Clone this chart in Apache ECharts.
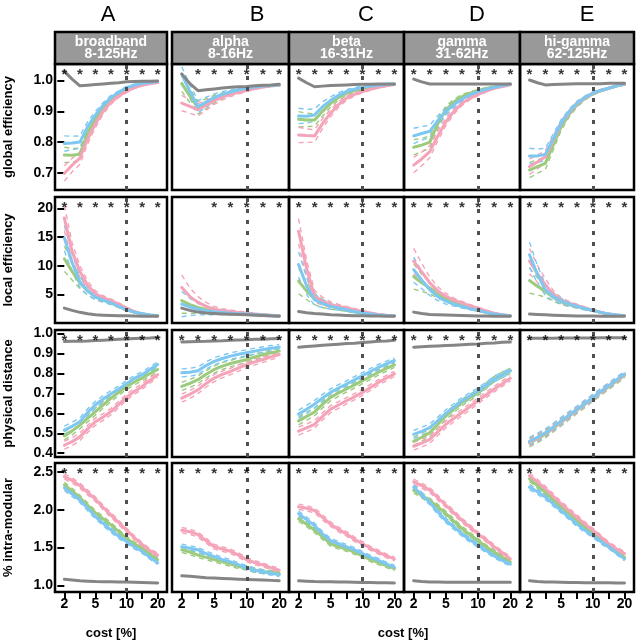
<!DOCTYPE html>
<html><head><meta charset="utf-8">
<script src="https://cdn.jsdelivr.net/npm/echarts@6/dist/echarts.min.js"></script>
<style>html,body{margin:0;padding:0;background:#fff}#c{width:637px;height:640px}</style>
</head><body><div id="c"></div>
<script>
// ---------- DATA ----------
const costs = [2, 2.5, 3, 4, 5, 6, 7, 8.5, 10, 12, 14, 17, 20];
const tickIdx = [0, 2, 4, 6, 8, 10, 12];
const labelIdx = [0, 4, 8, 12];
const bands = ['broadband\n8-125Hz', 'alpha\n8-16Hz', 'beta\n16-31Hz', 'gamma\n31-62Hz', 'hi-gamma\n62-125Hz'];
const colLetters = ['A', 'B', 'C', 'D', 'E'];
const metricNames = ['global efficiency', 'local efficiency', 'physical distance', '% intra-modular'];
const yTickValues = [[0.7, 0.8, 0.9, 1.0], [5, 10, 15, 20], [0.4, 0.5, 0.6, 0.7, 0.8, 0.9, 1.0], [1.0, 1.5, 2.0, 2.5]];
const refCostIdx = 8; // 10 %

// global efficiency
const GE_grey = [
 [1.03,1.005,0.983,0.985,0.987,0.989,0.991,0.993,0.996,0.997,0.998,0.998,0.999],
 [1.022,0.99,0.967,0.97,0.973,0.976,0.978,0.98,0.981,0.983,0.985,0.986,0.988],
 [1.008,0.993,0.98,0.982,0.984,0.985,0.986,0.987,0.988,0.988,0.989,0.989,0.989],
 [1.005,0.996,0.989,0.989,0.989,0.989,0.989,0.989,0.989,0.989,0.989,0.989,0.989],
 [1.002,0.993,0.986,0.987,0.988,0.989,0.99,0.99,0.99,0.99,0.991,0.991,0.991]];
const GE_pink = [
 [0.698,0.725,0.748,0.81,0.86,0.90,0.93,0.95,0.965,0.977,0.985,0.99,0.994],
 [0.927,0.916,0.905,0.92,0.935,0.946,0.955,0.962,0.968,0.974,0.979,0.983,0.985],
 [0.823,0.821,0.82,0.86,0.894,0.922,0.943,0.955,0.964,0.972,0.978,0.983,0.987],
 [0.725,0.745,0.769,0.82,0.866,0.9,0.926,0.943,0.955,0.966,0.975,0.981,0.986],
 [0.72,0.735,0.752,0.805,0.858,0.895,0.924,0.944,0.958,0.968,0.975,0.983,0.988]];
const GE_green = [
 [0.758,0.757,0.76,0.83,0.875,0.91,0.94,0.958,0.972,0.982,0.989,0.993,0.996],
 [0.99,0.95,0.911,0.925,0.94,0.951,0.96,0.967,0.972,0.977,0.98,0.983,0.985],
 [0.874,0.872,0.872,0.9,0.926,0.945,0.959,0.968,0.975,0.98,0.984,0.986,0.988],
 [0.783,0.79,0.80,0.86,0.905,0.93,0.948,0.959,0.967,0.974,0.979,0.984,0.988],
 [0.709,0.72,0.731,0.79,0.85,0.89,0.921,0.942,0.957,0.967,0.975,0.982,0.988]];
const GE_blue = [
 [0.795,0.797,0.80,0.85,0.888,0.92,0.945,0.962,0.977,0.985,0.991,0.994,0.997],
 [1.02,0.965,0.915,0.93,0.945,0.955,0.963,0.97,0.975,0.979,0.982,0.984,0.986],
 [0.885,0.884,0.888,0.915,0.935,0.952,0.964,0.972,0.978,0.982,0.985,0.987,0.989],
 [0.82,0.828,0.835,0.87,0.9,0.922,0.94,0.954,0.964,0.972,0.978,0.984,0.989],
 [0.755,0.755,0.76,0.81,0.861,0.898,0.926,0.945,0.959,0.968,0.975,0.983,0.989]];
const GE_ci = [0.025,0.022,0.02,0.016,0.012,0.009,0.007,0.005,0.004,0.003,0.002,0.002,0.001];

// local efficiency
const LE_grey = [
 [2.6,2.2,1.86,1.62,1.44,1.36,1.3,1.27,1.25,1.22,1.19,1.17,1.16],
 [2.6,2.2,1.9,1.75,1.65,1.58,1.52,1.47,1.42,1.36,1.3,1.24,1.18],
 [2.0,1.8,1.65,1.55,1.44,1.38,1.32,1.28,1.25,1.22,1.2,1.18,1.16],
 [1.9,1.65,1.5,1.45,1.4,1.35,1.3,1.26,1.23,1.2,1.18,1.17,1.16],
 [1.56,1.48,1.42,1.36,1.3,1.26,1.24,1.22,1.2,1.19,1.18,1.17,1.16]];
const LE_pink = [
 [18.3,12.5,9.0,6.6,5.1,4.4,3.9,3.3,2.6,2.0,1.5,1.35,1.25],
 [6.2,4.6,3.6,2.9,2.4,2.15,2.0,1.85,1.72,1.58,1.45,1.35,1.27],
 [16.0,9.5,4.65,3.8,3.2,2.9,2.6,2.3,2.0,1.75,1.5,1.35,1.27],
 [10.8,8.9,7.0,5.6,4.65,4.0,3.5,3.0,2.6,2.1,1.7,1.45,1.27],
 [10.8,8.6,6.7,5.0,3.9,3.4,3.0,2.6,2.2,1.85,1.55,1.38,1.25]];
const LE_green = [
 [11.2,9.0,7.0,5.6,4.6,4.0,3.5,2.9,2.3,1.9,1.6,1.4,1.25],
 [3.9,3.2,2.7,2.35,2.1,1.95,1.82,1.7,1.6,1.5,1.4,1.32,1.25],
 [7.3,5.6,4.2,3.4,2.9,2.6,2.3,2.0,1.73,1.55,1.4,1.3,1.25],
 [8.1,7.0,6.1,5.0,4.2,3.5,3.0,2.6,2.2,1.85,1.55,1.38,1.25],
 [7.4,6.4,5.5,4.5,3.7,3.2,2.9,2.5,2.2,1.85,1.55,1.38,1.25]];
const LE_blue = [
 [14.8,10.5,7.2,5.6,4.5,4.0,3.5,2.9,2.3,1.9,1.6,1.4,1.25],
 [3.3,2.8,2.4,2.15,1.95,1.82,1.72,1.63,1.55,1.47,1.38,1.3,1.24],
 [10.2,6.5,4.06,3.4,2.9,2.6,2.3,2.0,1.73,1.55,1.4,1.3,1.25],
 [9.3,7.5,5.8,4.6,3.8,3.3,2.9,2.5,2.2,1.85,1.55,1.38,1.25],
 [11.9,8.5,5.8,4.6,3.8,3.3,2.9,2.5,2.2,1.85,1.55,1.38,1.25]];
const LE_ci = [2.2,1.5,1.0,0.7,0.5,0.35,0.28,0.22,0.16,0.12,0.09,0.06,0.04];

// physical distance
const PD_grey = [
 [0.96,0.961,0.962,0.963,0.965,0.967,0.969,0.971,0.973,0.975,0.977,0.978,0.98],
 [0.958,0.959,0.96,0.961,0.963,0.964,0.966,0.968,0.969,0.971,0.972,0.974,0.975],
 [0.932,0.935,0.938,0.941,0.944,0.947,0.95,0.952,0.955,0.958,0.961,0.963,0.966],
 [0.932,0.934,0.936,0.938,0.94,0.942,0.944,0.946,0.948,0.951,0.953,0.956,0.958],
 [0.977,0.977,0.977,0.977,0.978,0.978,0.978,0.978,0.978,0.979,0.979,0.979,0.979]];
const PD_pink = [
 [0.44,0.458,0.482,0.522,0.558,0.582,0.609,0.645,0.681,0.71,0.735,0.765,0.794],
 [0.676,0.695,0.718,0.75,0.777,0.795,0.81,0.828,0.845,0.858,0.87,0.883,0.895],
 [0.511,0.527,0.545,0.585,0.621,0.642,0.663,0.683,0.705,0.73,0.755,0.777,0.798],
 [0.435,0.451,0.469,0.507,0.545,0.575,0.604,0.634,0.663,0.693,0.722,0.749,0.776],
 [0.455,0.476,0.5,0.529,0.559,0.589,0.618,0.648,0.678,0.708,0.737,0.765,0.795]];
const PD_green = [
 [0.487,0.512,0.541,0.575,0.609,0.643,0.676,0.706,0.735,0.757,0.777,0.8,0.82],
 [0.735,0.75,0.769,0.796,0.82,0.837,0.85,0.86,0.87,0.883,0.895,0.904,0.912],
 [0.562,0.585,0.607,0.645,0.68,0.702,0.722,0.743,0.764,0.785,0.806,0.825,0.843],
 [0.46,0.48,0.503,0.545,0.587,0.621,0.655,0.68,0.705,0.738,0.772,0.793,0.814],
 [0.452,0.472,0.495,0.525,0.555,0.585,0.615,0.645,0.675,0.705,0.733,0.762,0.79]];
const PD_blue = [
 [0.516,0.535,0.558,0.605,0.643,0.672,0.698,0.722,0.749,0.775,0.794,0.82,0.845],
 [0.803,0.806,0.814,0.84,0.861,0.875,0.887,0.896,0.904,0.912,0.92,0.926,0.932],
 [0.596,0.62,0.646,0.677,0.705,0.727,0.747,0.768,0.789,0.81,0.831,0.848,0.865],
 [0.494,0.51,0.528,0.563,0.6,0.632,0.663,0.688,0.713,0.742,0.772,0.793,0.814],
 [0.46,0.48,0.503,0.532,0.562,0.592,0.621,0.65,0.68,0.71,0.739,0.768,0.798]];
const PD_ci = [0.02,0.02,0.019,0.018,0.018,0.017,0.016,0.016,0.015,0.015,0.014,0.014,0.013];

// % intra-modular
const IM_grey = [
 [1.08,1.07,1.06,1.055,1.05,1.048,1.046,1.044,1.042,1.04,1.037,1.034,1.03],
 [1.125,1.12,1.11,1.1,1.095,1.09,1.085,1.08,1.077,1.073,1.07,1.065,1.06],
 [1.06,1.055,1.05,1.048,1.046,1.044,1.042,1.04,1.038,1.036,1.034,1.032,1.03],
 [1.06,1.05,1.045,1.042,1.04,1.04,1.04,1.04,1.04,1.04,1.04,1.04,1.04],
 [1.06,1.05,1.045,1.042,1.04,1.038,1.036,1.035,1.034,1.033,1.032,1.031,1.03]];
const IM_pink = [
 [2.44,2.39,2.32,2.23,2.14,2.03,1.93,1.83,1.73,1.63,1.54,1.46,1.40],
 [1.73,1.71,1.67,1.59,1.51,1.48,1.45,1.40,1.34,1.30,1.27,1.23,1.20],
 [2.04,2.02,1.99,1.9,1.81,1.74,1.68,1.61,1.55,1.49,1.44,1.39,1.35],
 [2.37,2.32,2.26,2.16,2.06,1.96,1.86,1.77,1.68,1.6,1.51,1.43,1.35],
 [2.45,2.37,2.28,2.18,2.08,1.99,1.90,1.81,1.73,1.64,1.55,1.48,1.42]];
const IM_green = [
 [2.33,2.25,2.16,2.06,1.96,1.88,1.80,1.71,1.62,1.55,1.49,1.41,1.34],
 [1.47,1.44,1.40,1.37,1.34,1.31,1.28,1.25,1.23,1.2,1.18,1.17,1.16],
 [1.88,1.81,1.73,1.64,1.55,1.51,1.48,1.44,1.39,1.34,1.30,1.26,1.22],
 [2.26,2.19,2.12,2.04,1.95,1.85,1.75,1.67,1.59,1.51,1.44,1.37,1.31],
 [2.41,2.32,2.23,2.13,2.04,1.95,1.86,1.77,1.68,1.6,1.52,1.44,1.37]];
const IM_blue = [
 [2.29,2.21,2.13,2.02,1.91,1.82,1.73,1.65,1.58,1.51,1.45,1.37,1.30],
 [1.51,1.49,1.47,1.42,1.38,1.34,1.31,1.27,1.23,1.2,1.18,1.16,1.14],
 [1.95,1.87,1.79,1.68,1.59,1.55,1.51,1.47,1.42,1.37,1.33,1.28,1.24],
 [2.30,2.2,2.10,1.97,1.86,1.77,1.68,1.6,1.53,1.46,1.39,1.33,1.28],
 [2.30,2.24,2.17,2.08,1.99,1.9,1.81,1.73,1.66,1.58,1.51,1.43,1.35]];
const IM_ci = [0.035,0.034,0.033,0.032,0.031,0.03,0.03,0.029,0.028,0.027,0.026,0.025,0.025];

// significance stars: tick positions (0..6) that carry a star, per row / column
const starTicksGE = [[0,1,2,3,4,5,6],[1,2,3,4,5,6],[0,1,2,3,4,5,6],[0,1,2,3,4,5,6],[0,1,2,3,4,5,6]];
const starTicksLE = [[0,1,2,3,4,5,6],[2,3,4,5,6],[0,1,2,3,4,5,6],[0,1,2,3,4,5,6],[0,1,2,3,4,5,6]];
const starTicksPD = [[0,1,2,3,4,5,6],[0,1,2,3,4,5,6],[0,1,2,3,4,5,6],[0,1,2,3,4,5,6],[0,1,2,3,4,5,6]];
const starTicksIM = [[0,1,2,3,4,5,6],[0,1,2,3,4,5,6],[0,1,2,3,4,5,6],[0,1,2,3,4,5,6],[0,1,2,3,4,5,6]];

// ---------- LAYOUT / STYLE ----------
const rowsData = [
  {grey: GE_grey, pink: GE_pink, green: GE_green, blue: GE_blue, ci: GE_ci, stars: starTicksGE},
  {grey: LE_grey, pink: LE_pink, green: LE_green, blue: LE_blue, ci: LE_ci, stars: starTicksLE},
  {grey: PD_grey, pink: PD_pink, green: PD_green, blue: PD_blue, ci: PD_ci, stars: starTicksPD},
  {grey: IM_grey, pink: IM_pink, green: IM_green, blue: IM_blue, ci: IM_ci, stars: starTicksIM}];
const yRange = [[0.644, 1.054], [0, 21.97], [0.381, 1.018], [0.911, 2.62]];
const yDecimals = [1, 0, 1, 1];
const colLeft = [55, 172, 289, 404, 520];
const colWidth = [112, 117, 115, 116, 114];
const rowTop = [64, 197, 330, 463];
const rowHeight = [126, 126, 127, 129];
const letterX = [108, 257, 366, 477, 587];
const COL = {pink: '#F5A3B8', green: '#9CCB7E', blue: '#7DC7F1', grey: '#858585'};
const FONT = 'Liberation Sans, Arial, Helvetica, sans-serif';

const grids = [], xAxes = [], yAxes = [], series = [], graphics = [];
let gi = 0;
for (let r = 0; r < 4; r++) {
  const rd = rowsData[r];
  const [ymin, ymax] = yRange[r];
  for (let c = 0; c < 5; c++) {
    grids.push({left: colLeft[c], top: rowTop[r], width: colWidth[c], height: rowHeight[r],
      show: true, borderColor: '#000', borderWidth: 2.5, backgroundColor: 'transparent'});
    xAxes.push({gridIndex: gi, type: 'value', min: -1.2, max: 13.2,
      axisLine: {show: false}, splitLine: {show: false},
      axisTick: {show: r === 3, customValues: tickIdx, length: 7, lineStyle: {color: '#000', width: 2}},
      axisLabel: {show: r === 3, customValues: labelIdx, formatter: v => String(costs[Math.round(v)]),
        color: '#000', fontSize: 14, fontWeight: 'bold', fontFamily: FONT, margin: 5}});
    yAxes.push({gridIndex: gi, type: 'value', min: ymin, max: ymax,
      axisLine: {show: false}, splitLine: {show: false},
      axisTick: {show: c === 0, customValues: yTickValues[r], length: 7, lineStyle: {color: '#000', width: 2}},
      axisLabel: {show: c === 0, customValues: yTickValues[r], formatter: v => Number(v).toFixed(yDecimals[r]),
        color: '#000', fontSize: 14, fontWeight: 'bold', fontFamily: FONT, margin: 2}});

    // reference line at 10 %
    series.push({type: 'line', xAxisIndex: gi, yAxisIndex: gi, data: [], silent: true, z: 1,
      markLine: {silent: true, symbol: ['none', 'none'], label: {show: false},
        lineStyle: {color: '#505050', type: [4, 7], width: 3}, data: [{xAxis: refCostIdx}]}});

    // CI dashed lines
    ['green', 'pink', 'blue'].forEach(k => {
      const m = rd[k][c];
      [1, -1].forEach(s => {
        series.push({type: 'line', xAxisIndex: gi, yAxisIndex: gi, showSymbol: false, silent: true, z: 2,
          lineStyle: {color: COL[k], width: 1.4, type: [5, 4]},
          data: m.map((v, i) => [i, v + s * rd.ci[i]])});
      });
    });
    // means
    ['green', 'pink', 'blue', 'grey'].forEach(k => {
      series.push({type: 'line', xAxisIndex: gi, yAxisIndex: gi, showSymbol: false, silent: true, z: 3,
        lineStyle: {color: COL[k], width: 3, cap: 'round', join: 'round'},
        data: rd[k][c].map((v, i) => [i, v])});
    });
    // stars
    const starY = ymax - (ymax - ymin) * 7.5 / rowHeight[r];
    series.push({type: 'scatter', xAxisIndex: gi, yAxisIndex: gi, silent: true, z: 5,
      symbolSize: 1, itemStyle: {color: 'rgba(0,0,0,0)'},
      label: {show: true, position: 'inside', formatter: '*', color: '#000', fontSize: 15,
        fontWeight: 'bold', fontFamily: FONT, offset: [0, 3]},
      data: rd.stars[c].map(t => [tickIdx[t], starY])});
    gi++;
  }
}

// strips, letters, titles
for (let c = 0; c < 5; c++) {
  graphics.push({type: 'rect', shape: {x: colLeft[c], y: 32, width: colWidth[c], height: 32},
    style: {fill: '#999999', stroke: '#000', lineWidth: 2.5}, z: 10});
  graphics.push({type: 'text', x: colLeft[c] + colWidth[c] / 2, y: 48, z: 11,
    style: {text: bands[c], fill: '#fff', font: 'bold 14px ' + FONT, align: 'center',
      verticalAlign: 'middle', lineHeight: 12.5}});
  graphics.push({type: 'text', x: letterX[c], y: 15, z: 11,
    style: {text: colLetters[c], fill: '#000', font: '22px ' + FONT, align: 'center', verticalAlign: 'middle'}});
}
for (let r = 0; r < 4; r++) {
  graphics.push({type: 'text', x: 8, y: rowTop[r] + rowHeight[r] / 2, rotation: Math.PI / 2, z: 11,
    style: {text: metricNames[r], fill: '#000', font: 'bold 13px ' + FONT, align: 'center', verticalAlign: 'middle'}});
}
[111, 403].forEach(x => graphics.push({type: 'text', x: x, y: 633, z: 11,
  style: {text: 'cost [%]', fill: '#000', font: 'bold 13px ' + FONT, align: 'center', verticalAlign: 'middle'}}));

const chart = echarts.init(document.getElementById('c'), null, {renderer: 'canvas'});
chart.setOption({animation: false, backgroundColor: '#fff', grid: grids, xAxis: xAxes, yAxis: yAxes,
  series: series, graphic: {elements: graphics}});
</script></body></html>
